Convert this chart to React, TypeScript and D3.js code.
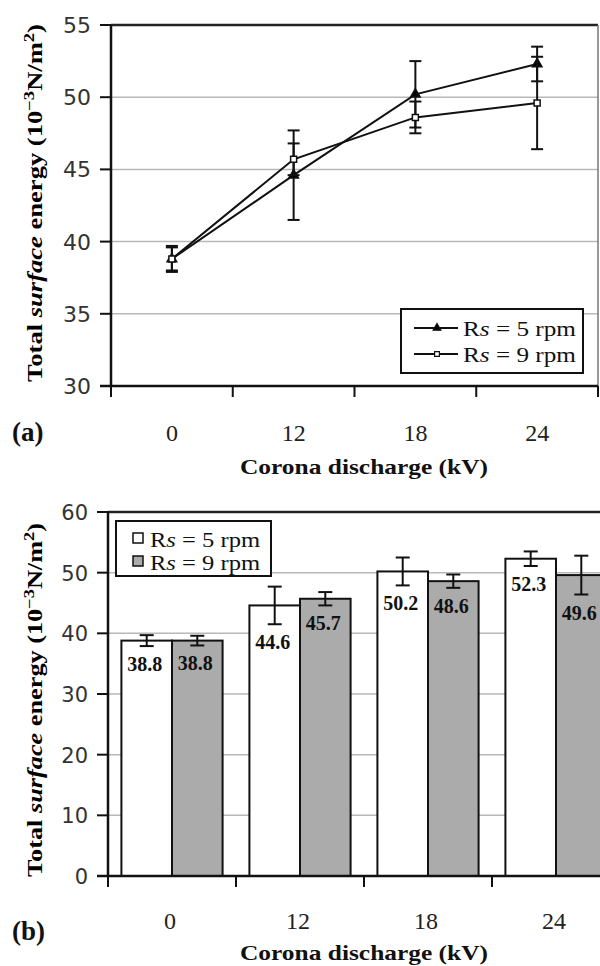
import * as d3 from "d3";

const cats = ["0", "12", "18", "24"];
const rs5 = [38.8, 44.6, 50.2, 52.3];
const rs9 = [38.8, 45.7, 48.6, 49.6];
const err5 = [0.9, 3.1, 2.3, 1.2];
const err9 = [0.8, 1.1, 1.1, 3.2];
const seriesNames = ["Rs = 5 rpm", "Rs = 9 rpm"];
const yTicksA = [30, 35, 40, 45, 50, 55];
const yTicksB = [0, 10, 20, 30, 40, 50, 60];

const SERIF = "'Liberation Serif', 'Times New Roman', serif";
const SANS = "'DejaVu Sans', Verdana, sans-serif";

function YTitle({ x, cy, len }: { x: number; cy: number; len: number }) {
  return (
    <text
      transform={`translate(${x},${cy}) rotate(-90)`}
      textAnchor="middle"
      fontFamily={SERIF}
      fontWeight="bold"
      fontSize={20}
      textLength={len}
      lengthAdjust="spacingAndGlyphs"
    >
      <tspan>Total </tspan>
      <tspan fontStyle="italic">surface</tspan>
      <tspan> energy  (10</tspan>
      <tspan dy={-8} fontSize={14}>−3</tspan>
      <tspan dy={8}>N/m</tspan>
      <tspan dy={-8} fontSize={14}>2</tspan>
      <tspan dy={8}>)</tspan>
    </text>
  );
}

function LineChart() {
  const x = d3.scaleBand().domain(cats).range([111, 598]);
  const y = d3.scaleLinear().domain([30, 55]).range([386, 25]);
  const cx = (c: string) => (x(c) as number) + x.bandwidth() / 2;
  const line = d3
    .line<number>()
    .x((d, i) => cx(cats[i]))
    .y((d) => y(d));
  const tri = d3.symbol().type(d3.symbolTriangle).size(40)();
  const sq = d3.symbol().type(d3.symbolSquare).size(36)();
  const series = [
    { v: rs5, e: err5, mark: tri, fill: "#000" },
    { v: rs9, e: err9, mark: sq, fill: "#fff" },
  ];
  return (
    <g>
      {yTicksA.slice(1, -1).map((t) => (
        <line key={t} x1={111} x2={598} y1={y(t)} y2={y(t)} stroke="#b8b8b8" strokeWidth={1.5} />
      ))}
      <line x1={111} x2={598} y1={y(55)} y2={y(55)} stroke="#222" strokeWidth={2.5} />
      <line x1={598} x2={598} y1={y(55)} y2={y(30)} stroke="#777" strokeWidth={1.5} />
      <line x1={111} x2={111} y1={y(55)} y2={y(30)} stroke="#111" strokeWidth={2.5} />
      <line x1={100} x2={598} y1={y(30)} y2={y(30)} stroke="#111" strokeWidth={2.5} />
      {yTicksA.map((t) => (
        <g key={t}>
          <line x1={100} x2={111} y1={y(t)} y2={y(t)} stroke="#111" strokeWidth={2} />
          <text x={91} y={y(t) + 8} textAnchor="end" fontFamily={SANS} fontSize={22} fill="#333">
            {t}
          </text>
        </g>
      ))}
      {cats.map((c) => (
        <g key={c}>
          <line x1={x(c)} x2={x(c)} y1={386} y2={397} stroke="#111" strokeWidth={2} />
          <text x={cx(c)} y={441} textAnchor="middle" fontFamily={SERIF} fontSize={24} fill="#222">
            {c}
          </text>
        </g>
      ))}
      <line x1={598} x2={598} y1={386} y2={397} stroke="#111" strokeWidth={2} />
      {series.map((s, si) => (
        <g key={si}>
          <path d={line(s.v) as string} fill="none" stroke="#111" strokeWidth={2} />
          {s.v.map((v, i) => (
            <g key={i}>
              <line x1={cx(cats[i])} x2={cx(cats[i])} y1={y(v - s.e[i])} y2={y(v + s.e[i])} stroke="#111" strokeWidth={2} />
              <line x1={cx(cats[i]) - 6} x2={cx(cats[i]) + 6} y1={y(v - s.e[i])} y2={y(v - s.e[i])} stroke="#111" strokeWidth={2} />
              <line x1={cx(cats[i]) - 6} x2={cx(cats[i]) + 6} y1={y(v + s.e[i])} y2={y(v + s.e[i])} stroke="#111" strokeWidth={2} />
              <path d={s.mark as string} transform={`translate(${cx(cats[i])},${y(v)})`} fill={s.fill} stroke="#111" strokeWidth={1.5} />
            </g>
          ))}
        </g>
      ))}
      <rect x={401} y={309} width={182} height={64} fill="#fff" stroke="#111" strokeWidth={2} />
      {series.map((s, si) => (
        <g key={si} transform={`translate(0,${328 + si * 26})`}>
          <line x1={414} x2={458} y1={0} y2={0} stroke="#111" strokeWidth={2} />
          <path d={s.mark as string} transform="translate(437,0) scale(0.8)" fill={s.fill} stroke="#111" strokeWidth={1.5} />
          <text x={463} y={8} fontFamily={SERIF} fontSize={21} fill="#111" textLength={113} lengthAdjust="spacingAndGlyphs">
            R<tspan fontStyle="italic">s</tspan>{seriesNames[si].slice(2)}
          </text>
        </g>
      ))}
      <text x={12} y={441} fontFamily={SERIF} fontWeight="bold" fontSize={27} fill="#111">(a)</text>
      <text x={364} y={474} textAnchor="middle" fontFamily={SERIF} fontWeight="bold" fontSize={22} fill="#111" textLength={248} lengthAdjust="spacingAndGlyphs">
        Corona discharge (kV)
      </text>
      <YTitle x={42} cy={203} len={358} />
    </g>
  );
}

function BarChart() {
  const x = d3.scaleBand().domain(cats).range([108, 620]);
  const sub = d3.scaleBand().domain(["a", "b"]).range([0, x.bandwidth()]).paddingOuter(0.265);
  const y = d3.scaleLinear().domain([0, 60]).range([876, 512]);
  const series = [
    { k: "a", v: rs5, e: err5, fill: "#fff" },
    { k: "b", v: rs9, e: err9, fill: "#ababab" },
  ];
  return (
    <g>
      {yTicksB.slice(1, -1).map((t) => (
        <line key={t} x1={108} x2={620} y1={y(t)} y2={y(t)} stroke="#b8b8b8" strokeWidth={1.5} />
      ))}
      <line x1={108} x2={620} y1={y(60)} y2={y(60)} stroke="#222" strokeWidth={2.5} />
      {series.map((s) =>
        s.v.map((v, i) => {
          const bx = (x(cats[i]) as number) + (sub(s.k) as number);
          const mx = bx + sub.bandwidth() / 2;
          return (
            <g key={s.k + i}>
              <rect x={bx} y={y(v)} width={sub.bandwidth()} height={y(0) - y(v)} fill={s.fill} stroke="#111" strokeWidth={2} />
              <line x1={mx} x2={mx} y1={y(v - s.e[i])} y2={y(v + s.e[i])} stroke="#111" strokeWidth={2} />
              <line x1={mx - 7} x2={mx + 7} y1={y(v - s.e[i])} y2={y(v - s.e[i])} stroke="#111" strokeWidth={2} />
              <line x1={mx - 7} x2={mx + 7} y1={y(v + s.e[i])} y2={y(v + s.e[i])} stroke="#111" strokeWidth={2} />
              <text x={mx - 2} y={y(v - s.e[i]) + 25} textAnchor="middle" fontFamily={SERIF} fontWeight="bold" fontSize={20} fill="#111">
                {v.toFixed(1)}
              </text>
            </g>
          );
        })
      )}
      <line x1={108} x2={108} y1={y(60)} y2={y(0)} stroke="#111" strokeWidth={2.5} />
      <line x1={97} x2={620} y1={y(0)} y2={y(0)} stroke="#111" strokeWidth={2.5} />
      {yTicksB.map((t) => (
        <g key={t}>
          <line x1={97} x2={108} y1={y(t)} y2={y(t)} stroke="#111" strokeWidth={2} />
          <text x={88} y={y(t) + 8} textAnchor="end" fontFamily={SANS} fontSize={21} fill="#333">
            {t}
          </text>
        </g>
      ))}
      {cats.map((c) => (
        <g key={c}>
          <line x1={x(c)} x2={x(c)} y1={876} y2={887} stroke="#111" strokeWidth={2} />
          <text x={(x(c) as number) + x.bandwidth() / 2 - 2} y={929} textAnchor="middle" fontFamily={SERIF} fontSize={24} fill="#222">
            {c}
          </text>
        </g>
      ))}
      <rect x={116} y={521} width={155} height={55} fill="#fff" stroke="#111" strokeWidth={2} />
      {series.map((s, si) => (
        <g key={si} transform={`translate(0,${538 + si * 23})`}>
          <rect x={133} y={-5} width={10} height={10} fill={s.fill} stroke="#111" strokeWidth={1.5} />
          <text x={150} y={9} fontFamily={SERIF} fontSize={21} fill="#111" textLength={110} lengthAdjust="spacingAndGlyphs">
            R<tspan fontStyle="italic">s</tspan>{seriesNames[si].slice(2)}
          </text>
        </g>
      ))}
      <text x={12} y={940} fontFamily={SERIF} fontWeight="bold" fontSize={27} fill="#111">(b)</text>
      <text x={364} y={960} textAnchor="middle" fontFamily={SERIF} fontWeight="bold" fontSize={22} fill="#111" textLength={248} lengthAdjust="spacingAndGlyphs">
        Corona discharge (kV)
      </text>
      <YTitle x={42} cy={700} len={354} />
    </g>
  );
}

export default function App() {
  return (
    <svg width={600} height={966} style={{ position: "absolute", left: 0, top: 0, background: "#fff" }}>
      <rect width={600} height={966} fill="#fff" />
      <LineChart />
      <BarChart />
    </svg>
  );
}
